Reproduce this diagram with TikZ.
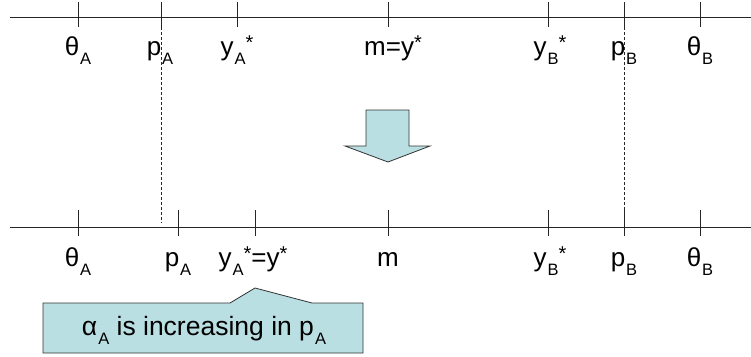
\documentclass[tikz,border=0pt]{standalone}
\usepackage{fontspec}
\setmainfont{Liberation Sans}
\newcommand\lsub[1]{\kern1pt\raisebox{-9pt}{\fontsize{16.5}{16.5}\selectfont #1}}
\newcommand\lstar{\raisebox{6pt}{\fontsize{20}{20}\selectfont *}}
\definecolor{callfill}{HTML}{B9DFE3}
\begin{document}
\begin{tikzpicture}[x=1pt,y=-1pt,
  axis/.style={draw=black!85,line width=0.9pt},
  tick/.style={draw=black!85,line width=0.9pt},
  guide/.style={draw=black!85,line width=0.8pt,dash pattern=on 3pt off 2pt},
  lbl/.style={anchor=base,inner sep=0pt,font=\fontsize{26}{26}\selectfont},
  clbl/.style={anchor=base,inner sep=0pt,font=\fontsize{26.5}{26.5}\selectfont},
  shapebox/.style={draw=black!80,line width=0.8pt,fill=callfill}]
\useasboundingbox (0,0) rectangle (751,356);
% top axis
\coordinate (tl) at (10,17); \coordinate (tr) at (751,17);
\draw[axis] (tl) -- (tr);
\foreach \n/\x in {tA/78,tpA/161,tyA/237,tm/388,tyB/548,tpB/624,ttB/700}{
  \coordinate (\n u) at (\x,2); \coordinate (\n d) at (\x,27);
  \draw[tick] (\n u) -- (\n d);}
\node[lbl] (l1) at (78,55) {θ\lsub{A}};
\node[lbl] (l2) at (160,55) {p\lsub{A}};
\node[lbl] (l3) at (237,55) {y\lsub{A}\lstar};
\node[lbl] (l4) at (393,55) {m=y\lstar};
\node[lbl] (l5) at (550,55) {y\lsub{B}\lstar};
\node[lbl] (l6) at (624,55) {p\lsub{B}};
\node[lbl] (l7) at (700,55) {θ\lsub{B}};
% bottom axis
\coordinate (bl) at (10,227); \coordinate (br) at (751,227);
\draw[axis] (bl) -- (br);
\foreach \n/\x in {bA/78,bpA/178,byA/255,bm/388,byB/548,bpB/624,bB/700}{
  \coordinate (\n u) at (\x,210); \coordinate (\n d) at (\x,236);
  \draw[tick] (\n u) -- (\n d);}
\node[lbl] (m1) at (78,266) {θ\lsub{A}};
\node[lbl] (m2) at (178,266) {p\lsub{A}};
\node[lbl] (m3) at (253,266) {y\lsub{A}\lstar=y\lstar};
\node[lbl] (m4) at (388,266) {m};
\node[lbl] (m5) at (550,266) {y\lsub{B}\lstar};
\node[lbl] (m6) at (624,266) {p\lsub{B}};
\node[lbl] (m7) at (700,266) {θ\lsub{B}};
% dashed guides
\coordinate (g1a) at (161,17); \coordinate (g1b) at (161,223);
\coordinate (g2a) at (624,17); \coordinate (g2b) at (624,210);
\draw[guide] (g1a) -- (g1b);
\draw[guide] (g2a) -- (g2b);
% block arrow
\draw[shapebox,line join=miter] (366,110) -- (409,110) -- (409,146) -- (430,146)
  -- (388,162) -- (345,146) -- (366,146) -- cycle;
% callout
\draw[shapebox,line join=miter] (43,303) -- (230,303) -- (255,288) -- (312,303)
  -- (363,303) -- (363,353) -- (43,353) -- cycle;
\node[clbl] (c1) at (204,335) {α\lsub{A} is increasing in p\lsub{A}};
\end{tikzpicture}
\end{document}
